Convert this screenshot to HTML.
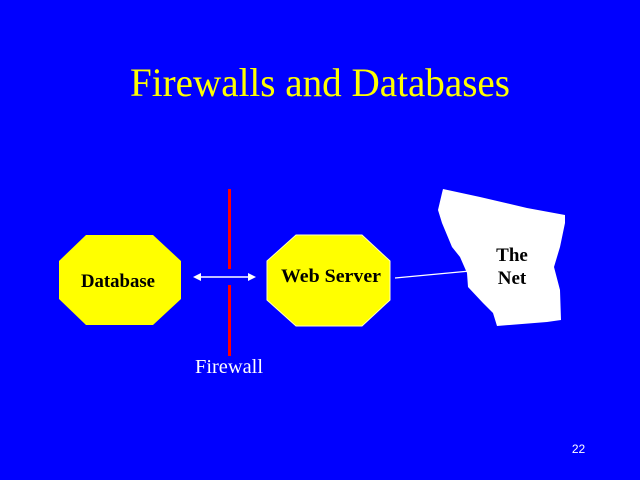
<!DOCTYPE html>
<html><head><meta charset="utf-8"><style>
html,body{margin:0;padding:0;background:#0000FF;}
svg{display:block;}
</style></head><body>
<svg width="640" height="480" viewBox="0 0 640 480" xmlns="http://www.w3.org/2000/svg">
<rect width="640" height="480" fill="#0000FF"/>
<text x="130" y="96" font-family="Liberation Serif, serif" font-size="40" fill="#FFFF00" textLength="380" lengthAdjust="spacingAndGlyphs">Firewalls and Databases</text>
<!-- Database octagon -->
<polygon points="86,235 153,235 181,261 181,299 153,325 86,325 59,299 59,261" fill="#FFFF00"/>
<text x="118" y="287" font-family="Liberation Serif, serif" font-size="19" font-weight="bold" fill="#000" text-anchor="middle" textLength="74" lengthAdjust="spacingAndGlyphs">Database</text>
<!-- Web server octagon -->
<polygon points="296,235 362,235 390,261 390,300 362,326 296,326 267,300 267,261" fill="#FFFF00" stroke="#ffffc0" stroke-width="1"/>
<text x="331" y="282" font-family="Liberation Serif, serif" font-size="19" font-weight="bold" fill="#000" text-anchor="middle" textLength="100" lengthAdjust="spacingAndGlyphs">Web Server</text>
<!-- Firewall -->
<rect x="228" y="189" width="3" height="80" fill="#FF0000"/>
<rect x="228" y="285" width="3" height="71" fill="#FF0000"/>
<text x="229" y="373" font-family="Liberation Serif, serif" font-size="20" fill="#fff" text-anchor="middle" textLength="68" lengthAdjust="spacingAndGlyphs">Firewall</text>
<!-- Arrow -->
<line x1="198" y1="277" x2="251" y2="277" stroke="#fff" stroke-width="1.5"/>
<polygon points="193,277 201,273 201,281" fill="#fff"/>
<polygon points="256,277 248,273 248,281" fill="#fff"/>
<!-- line to net -->
<line x1="395" y1="278" x2="470" y2="271" stroke="#fff" stroke-width="1.2"/>
<!-- The Net blob -->
<polygon points="443,189 480,197 527,208 565,215 565,223 560,247 554,267 560,290 561,320 547,322 497,326 493,313 483,303 468,287 467,273 460,257 452,247 442,223 438,210 442,193" fill="#fff"/>
<text x="512" y="261" font-family="Liberation Serif, serif" font-size="19" font-weight="bold" fill="#000" text-anchor="middle">The</text>
<text x="512" y="284" font-family="Liberation Serif, serif" font-size="19" font-weight="bold" fill="#000" text-anchor="middle">Net</text>
<text x="578.5" y="453" font-family="Liberation Sans, sans-serif" font-size="12" fill="#fff" text-anchor="middle">22</text>
</svg>
</body></html>
